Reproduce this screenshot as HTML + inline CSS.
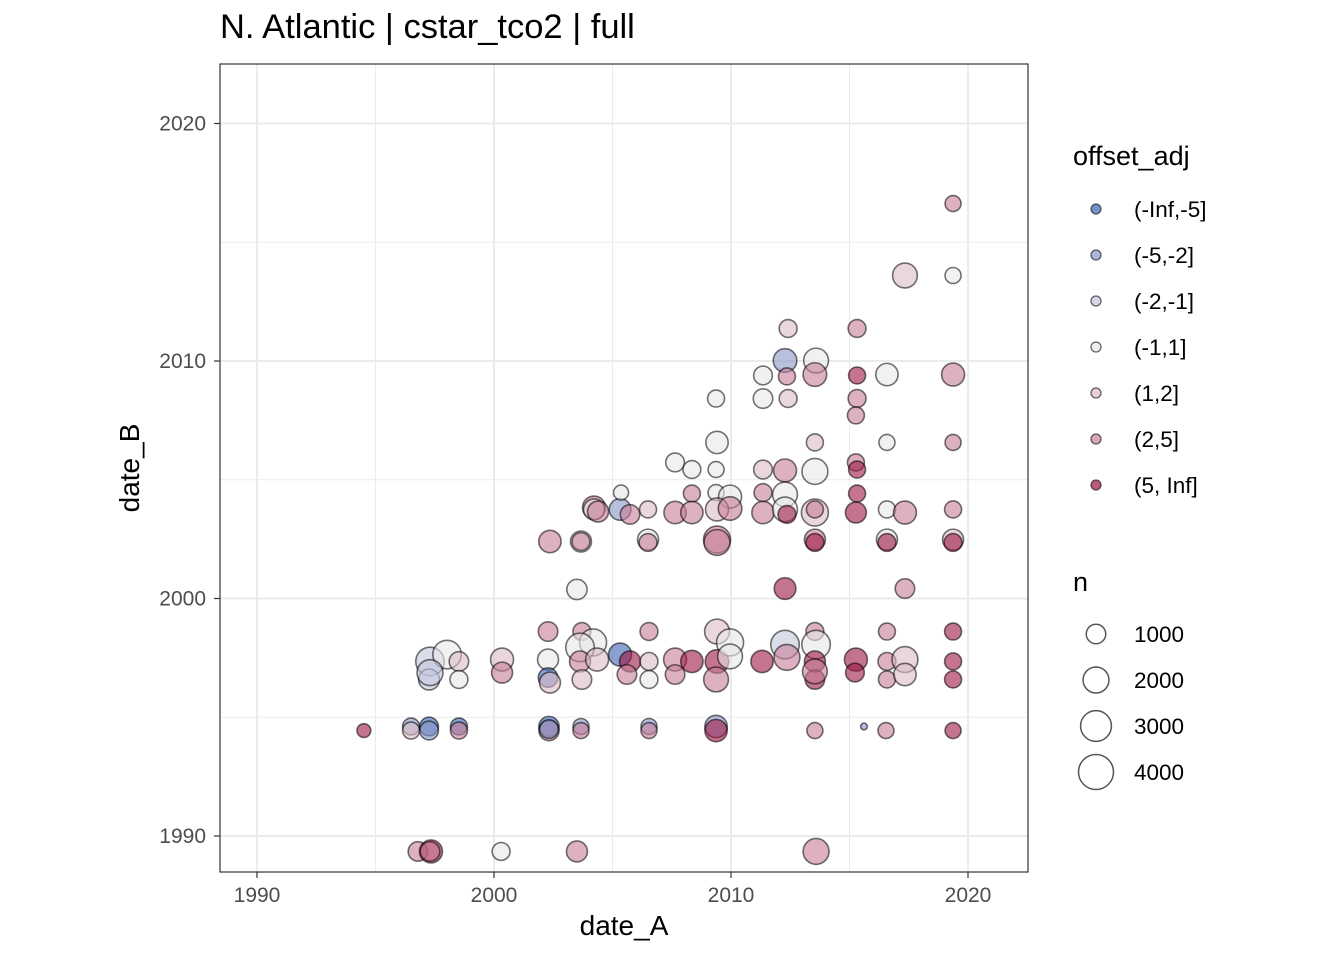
<!DOCTYPE html>
<html><head><meta charset="utf-8"><style>
body{margin:0;background:#fff;}
svg{display:block;font-family:"Liberation Sans",sans-serif;}
</style></head><body>
<svg id="chart" width="1344" height="960"></svg>
<script>
const xs=[1996.79,1997.34,1997.30,2000.30,2003.50,2013.59,
1994.51,1996.50,1996.50,1997.26,1997.26,1998.52,1998.52,2002.32,2002.32,2002.32,2003.67,2003.67,2006.54,2006.54,2009.37,2009.37,2013.54,2015.61,2016.54,2019.37,
1997.30,1998.02,1998.52,1997.26,1998.52,1997.30,2000.34,2000.34,2002.28,2002.28,2002.28,2002.36,2003.71,2004.18,2003.63,2003.63,2003.71,2004.35,2005.32,2005.74,2005.61,2006.54,2006.54,2006.54,2007.64,2007.64,2008.35,2009.41,2009.41,2009.37,2009.96,2009.96,2011.31,
2012.28,2012.36,2013.54,2013.59,2013.54,2013.54,2013.54,2015.27,2015.23,2016.58,2016.58,2016.58,2017.34,2017.34,2019.37,2019.37,2019.37,
2012.41,2015.32,2012.28,2013.59,2013.54,2012.36,2011.35,2015.32,2016.58,2019.37,
2009.37,2011.35,2012.41,2015.32,2015.27,2009.41,2013.54,2016.58,2019.37,
2007.64,2008.35,2009.37,2011.35,2012.28,2013.54,2015.27,2015.32,
2008.35,2009.37,2009.96,2011.35,2012.28,2015.32,
2006.50,2007.64,2008.35,2009.41,2009.96,2011.35,2012.28,2012.36,2013.54,2013.54,2015.27,2016.58,2017.34,2019.37,
2006.50,2006.50,2009.41,2009.41,2013.54,2013.54,2016.58,2016.58,2019.37,2019.37,
2012.28,2017.34,2019.37,2017.34,2019.37,
2002.36,2003.67,2003.67,2003.50,2004.22,2004.22,2005.32,2005.74,2005.36,2004.39];
const ys=[1989.35,1989.35,1989.35,1989.35,1989.35,1989.35,
1994.44,1994.61,1994.44,1994.61,1994.44,1994.61,1994.44,1994.61,1994.44,1994.50,1994.61,1994.44,1994.61,1994.44,1994.61,1994.44,1994.44,1994.61,1994.44,1994.44,
1997.35,1997.64,1997.35,1996.59,1996.59,1996.88,1997.43,1996.88,1998.61,1997.43,1996.67,1996.46,1998.61,1998.15,1997.94,1997.35,1996.59,1997.43,1997.64,1997.35,1996.80,1998.61,1997.35,1996.59,1997.43,1996.80,1997.35,1998.61,1997.35,1996.59,1998.15,1997.56,1997.35,
1998.06,1997.52,1998.61,1998.06,1997.35,1996.59,1996.93,1997.43,1996.88,1998.61,1997.35,1996.59,1997.43,1996.80,1998.61,1997.35,1996.59,
2011.37,2011.37,2010.02,2010.02,2009.43,2009.35,2009.39,2009.39,2009.43,2009.43,
2008.42,2008.42,2008.42,2008.42,2007.71,2006.57,2006.57,2006.57,2006.57,
2005.73,2005.43,2005.43,2005.43,2005.39,2005.35,2005.73,2005.43,
2004.42,2004.46,2004.29,2004.46,2004.38,2004.42,
2003.75,2003.62,2003.62,2003.75,2003.79,2003.62,2003.75,2003.54,2003.62,2003.75,2003.62,2003.75,2003.62,2003.75,
2002.48,2002.36,2002.48,2002.36,2002.48,2002.36,2002.48,2002.36,2002.48,2002.36,
2000.42,2000.42,2016.63,2013.60,2013.60,
2002.40,2002.40,2002.40,2000.38,2003.83,2003.75,2003.75,2003.54,2004.46,2003.66];
const ns=[1000,1500,1000,800,1200,2000,
400,700,700,900,900,700,700,1100,1100,900,600,600,600,600,1400,1400,600,30,600,600,
2500,2500,1000,1200,800,2000,1500,1200,1000,1200,1000,1200,800,2200,2500,1200,1000,1500,1500,1200,1000,800,800,800,1500,1000,1400,1800,1600,1800,2200,1800,1400,
2500,2000,800,2500,1200,1000,1800,1500,900,700,800,700,2000,1400,700,700,700,
800,800,1600,1800,1600,700,900,700,1400,1500,
700,1000,800,800,700,1400,700,600,600,
900,800,600,900,1500,2000,700,700,
700,600,1500,800,1800,700,
700,1400,1400,1500,1600,1400,1800,800,2200,700,1200,700,1500,700,
1200,800,2200,2000,1200,800,1200,800,1200,800,
1300,1000,600,1800,600,
1400,1200,800,1100,1500,1200,1300,1000,500,1200];
const cats=[5,6,5,3,5,5,
6,1,4,0,1,0,5,0,5,1,1,5,1,5,1,6,5,1,5,6,
2,3,4,2,3,2,4,5,5,3,0,4,5,3,3,5,4,4,0,6,5,5,4,3,5,5,6,4,6,5,3,3,6,
2,5,5,3,6,6,5,6,6,5,5,5,4,4,6,6,6,
4,5,1,3,5,5,3,6,3,5,
3,3,4,5,5,3,4,3,5,
3,3,3,4,5,3,5,6,
5,3,3,5,3,6,
4,5,5,4,5,5,3,6,4,5,6,3,5,5,
3,5,5,5,5,6,3,6,4,6,
6,5,5,4,3,
5,3,5,3,5,3,1,5,3,5];
const catLabels=["(-Inf,-5]","(-5,-2]","(-2,-1]","(-1,1]","(1,2]","(2,5]","(5, Inf]"];
const catColors=["#3d62b3","#8796c6","#c3c6de","#e8e8e8","#dcbcc4","#c77d97","#9c1546"];
const xTicks=[1990,2000,2010,2020];
const yTicks=[1990,2000,2010,2020];
const sizeBreaks=[1000,2000,3000,4000];

const NS="http://www.w3.org/2000/svg";
const svg=document.getElementById('chart');
const P={l:220,r:1028,t:64,b:872};
const X=v=>257+(v-1990)*23.7;
const Y=v=>836-(v-1990)*23.75;
const R=n=>2+0.245*Math.sqrt(n);
function mk(tag,attrs,parent){const e=document.createElementNS(NS,tag);for(const k in attrs)e.setAttribute(k,attrs[k]);(parent||svg).appendChild(e);return e;}

const grid=mk('g',{});


for(let v=1985;v<=2025;v+=5){
  const major=v%10===0;
  const gx=X(v), gy=Y(v);
  if(gx>P.l&&gx<P.r) mk('line',{x1:gx,x2:gx,y1:P.t,y2:P.b,stroke:'#ebebeb','stroke-width':major?2:1},grid);
  if(gy>P.t&&gy<P.b) mk('line',{x1:P.l,x2:P.r,y1:gy,y2:gy,stroke:'#ebebeb','stroke-width':major?2:1},grid);
}
const pts=mk('g',{});


for(let i=0;i<xs.length;i++){
  const c=mk('circle',{cx:X(xs[i]),cy:Y(ys[i]),r:R(ns[i]),fill:catColors[cats[i]],'fill-opacity':0.6,stroke:'rgba(0,0,0,0.55)','stroke-width':1.6},pts);
  
  
}
const border=mk('rect',{x:P.l,y:P.t,width:P.r-P.l,height:P.b-P.t,fill:'none',stroke:'#333','stroke-width':1.2});


xTicks.forEach(v=>{
  mk('line',{x1:X(v),x2:X(v),y1:P.b,y2:P.b+6,stroke:'#333','stroke-width':1.2});
  const t=mk('text',{x:X(v),y:P.b+30,'text-anchor':'middle','font-size':21,fill:'#4d4d4d'});t.textContent=v;
  
  
});
yTicks.forEach(v=>{
  mk('line',{x1:P.l-6,x2:P.l,y1:Y(v),y2:Y(v),stroke:'#333','stroke-width':1.2});
  const t=mk('text',{x:P.l-14,y:Y(v)+7,'text-anchor':'end','font-size':21,fill:'#4d4d4d'});t.textContent=v;
  
  
});
const leg=mk('g',{});


catLabels.forEach((l,i)=>{
  const y=209+i*46;
  mk('circle',{cx:1096,cy:y,r:5,fill:catColors[i],'fill-opacity':0.7,stroke:'rgba(0,0,0,0.6)','stroke-width':1.3},leg);
  const t=mk('text',{x:1134,y:y+8,'font-size':22.5,fill:'#000'},leg);t.textContent=l;
  
  
});
sizeBreaks.forEach((n,i)=>{
  const y=634+i*46;
  mk('circle',{cx:1096,cy:y,r:R(n),fill:'#fff',stroke:'#555','stroke-width':1.5},leg);
  const t=mk('text',{x:1134,y:y+8,'font-size':22.5,fill:'#000'},leg);t.textContent=n;
  
  
});
</script>
<div style="position:absolute;left:0;top:0;width:1344px;height:960px;pointer-events:none;font-family:'Liberation Sans',sans-serif;">
<div style="position:absolute;left:220px;top:8px;font-size:34.5px;color:#000;white-space:nowrap;">N. Atlantic | cstar_tco2 | full</div>
<div style="position:absolute;left:524px;width:200px;text-align:center;top:910px;font-size:28px;">date_A</div>
<div style="position:absolute;left:30px;top:452px;width:200px;text-align:center;font-size:28px;transform:rotate(-90deg);transform-origin:100px 16px;">date_B</div>
<div style="position:absolute;left:1073px;top:141px;font-size:27px;">offset_adj</div>
<div style="position:absolute;left:1073px;top:567px;font-size:27px;">n</div>
</div>
</body></html>
